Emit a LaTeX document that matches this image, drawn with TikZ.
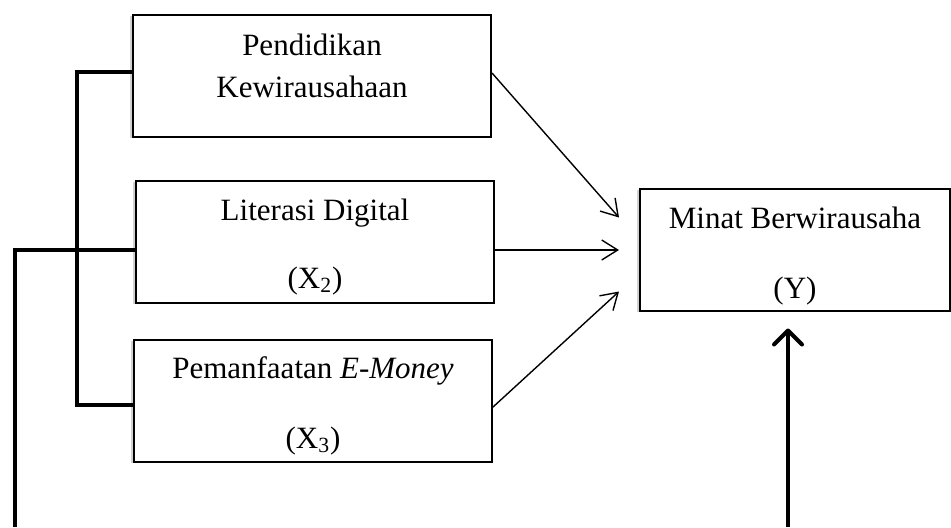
\documentclass[tikz,border=0pt]{standalone}
\usepackage{fontspec}
\setmainfont{Liberation Serif}
\usetikzlibrary{arrows.meta,shadows}

\begin{document}
\begin{tikzpicture}[x=0.5pt,y=-0.5pt,
    var/.style={draw,line width=1pt,inner sep=0pt,minimum width=179pt,
      minimum height=61pt,fill=white,
      general shadow={fill=black!18,shadow xshift=-1.5pt,shadow yshift=-0.5pt}},
    lbl/.style={anchor=base,inner sep=0pt,font=\fontsize{15.5}{18}\selectfont},
    link/.style={line width=2pt},
    effect/.style={line width=0.7pt,-{Straight Barb[length=8pt,width=10pt]}},
    bigeffect/.style={line width=2pt,-{Straight Barb[length=7pt,width=14pt,round]}}]
      \useasboundingbox (0,0) rectangle (951,527);%

      % variabel bebas
      \node[var] (x1) at (312,76) {};%
      \node[var] (x2) at (315,242) {};%
      \node[var] (x3) at (313,400.5) {};%
      % variabel terikat
      \node[var,minimum width=155pt] (y) at (795,249.5) {};%

      \node[lbl] at (312,55) {Pendidikan};%
      \node[lbl] at (312,97) {Kewirausahaan};%
      \node[lbl] at (315,220) {Literasi Digital};%
      \node[lbl] at (315,288) {(X\textsubscript{2})};%
      \node[lbl] at (313,378) {Pemanfaatan \textit{E-Money}};%
      \node[lbl] at (313,448) {(X\textsubscript{3})};%
      \node[lbl] at (795,228) {Minat Berwirausaha};%
      \node[lbl] at (795,298) {(Y)};%

      \coordinate (lf) at (15,527);%
      \coordinate (rt) at (788,527);%

      % garis hubung kiri
      \draw[link] ([yshift=2pt]x1.west) -- ++(-55,0) |- ([yshift=-2.25pt]x3.west);%
      \draw[link] (lf) |- ([yshift=-4pt]x2.west);%

      % pengaruh parsial
      \draw[effect] ([yshift=1.5pt]x1.east) -- ([xshift=-10pt,yshift=16pt]y.west);%
      \draw[effect] ([yshift=-4pt]x2.east) -- ([xshift=-10pt,yshift=-0.25pt]y.west);%
      \draw[effect] ([yshift=-3.25pt]x3.east) -- ([xshift=-10pt,yshift=-21pt]y.west);%

      % pengaruh simultan
      \draw[bigeffect] (rt) -- ([xshift=-3.5pt,yshift=-8.5pt]y.south);%
\end{tikzpicture}
\end{document}
